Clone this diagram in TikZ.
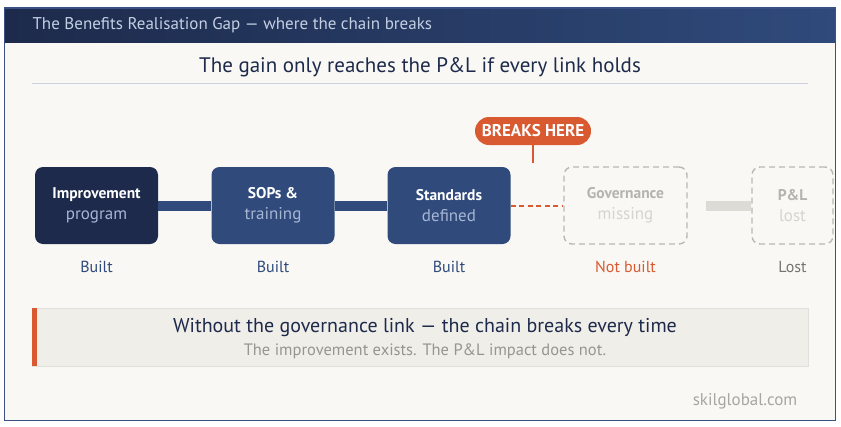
\documentclass[tikz,border=0pt]{standalone}
\usepackage{fontspec}
\setmainfont{PT Sans}
\definecolor{navydark}{HTML}{1D2A4B}
\definecolor{navyblue}{HTML}{2F4A7B}
\definecolor{headtext}{HTML}{C3CFE3}
\definecolor{subtext}{HTML}{A7B6D3}
\definecolor{breakred}{HTML}{D95A31}
\definecolor{ghostline}{HTML}{BAB8B3}
\definecolor{ghosttext}{HTML}{B5B3AE}
\definecolor{ghostsub}{HTML}{D6D4CF}
\definecolor{ghostbar}{HTML}{DDDBD6}
\definecolor{paper}{HTML}{F9F8F4}
\definecolor{bannerfill}{HTML}{F0EEE8}
\definecolor{bannerline}{HTML}{E2E0DA}
\definecolor{lostgrey}{HTML}{76746F}
\definecolor{footgrey}{HTML}{A8A6A1}
\definecolor{rulecol}{HTML}{C9D0DE}
\definecolor{framecol}{HTML}{3A5183}
\tikzset{
  stagebox/.style={rounded corners=8pt, minimum width=123pt, minimum height=77pt,
    inner sep=0pt, align=center, text=white, font=\fontsize{15.5}{21}\selectfont},
  ghostbox/.style={stagebox, fill=none, draw=ghostline, line width=1.4pt,
    dash pattern=on 6pt off 4pt, text=ghosttext},
  linkbar/.style={navyblue, line width=10pt},
  statuslabel/.style={font=\fontsize{16}{19}\selectfont, text=navyblue}
}
\newcommand{\sublabel}[2]{\textcolor{#1}{\fontsize{17}{21}\selectfont #2}}
\begin{document}
\begin{tikzpicture}[x=1pt,y=-1pt]
    \useasboundingbox (0,0) rectangle (841,426);
    % Page and header band
    \fill[paper] (4.5,8) rectangle (835.5,420.5);
    \shade[left color=navydark, right color=navyblue] (4.5,8) rectangle (835.5,42);
    \draw[framecol, line width=1.3pt] (4.5,8) rectangle (835.5,420.5);
    \node[anchor=west, text=headtext, font=\fontsize{17}{19}\selectfont] (head) at (29,25)
      {The Benefits Realisation Gap — where the chain breaks};

    % Title and rule
    \node[text=navydark, font=\fontsize{21}{24}\selectfont] (title) at (420,67)
      {The gain only reaches the P\&L if every link holds};
    \draw[rulecol, line width=0.8pt] (32,83) -- (808,83);

    % Chain stages
    \node[stagebox, fill=navydark] (impr) at (96.5,205.5)
      {\textbf{Improvement}\\\sublabel{subtext}{program}};
    \node[stagebox, fill=navyblue] (sops) at (273,205.5)
      {\textbf{SOPs \&}\\\sublabel{subtext}{training}};
    \node[stagebox, fill=navyblue] (stds) at (449,205.5)
      {\textbf{Standards}\\\sublabel{subtext}{defined}};
    \node[ghostbox] (gov) at (625.5,205.5)
      {\textbf{Governance}\\\sublabel{ghostsub}{missing}};
    \node[ghostbox, minimum width=81pt] (pnl) at (792.5,205.5)
      {\textbf{P\&L}\\\sublabel{ghostsub}{lost}};

    % Links
    \draw[linkbar] (impr) -- (sops);
    \draw[linkbar] (sops) -- (stds);
    \draw[breakred, line width=2pt, dash pattern=on 5pt off 3.5pt] (stds.east) -- (gov.west);
    \draw[ghostbar, line width=10pt, shorten <=18pt] (gov) -- (pnl);

    % Break marker
    \node[fill=breakred, text=white, rounded corners=14pt, minimum width=116pt,
      minimum height=28pt, inner sep=0pt, font=\bfseries\fontsize{17}{19}\selectfont]
      (breaks) at (533,131) {BREAKS HERE};
    \coordinate (breakpt) at (533,163);
    \draw[breakred, line width=1.2pt] (breaks.south) -- (breakpt);

    % Status labels
    \node[statuslabel] (st1) at (96.5,267) {Built};
    \node[statuslabel] (st2) at (273,267) {Built};
    \node[statuslabel] (st3) at (449,267) {Built};
    \node[statuslabel, text=breakred] (st4) at (625.5,267) {Not built};
    \node[statuslabel, text=lostgrey] (st5) at (792.5,267) {Lost};

    % Banner
    \draw[fill=bannerfill, draw=bannerline, line width=0.8pt] (32,308) rectangle (808,366);
    \fill[breakred] (32,308) rectangle (37,366);
    \node[text=navydark, font=\fontsize{20}{23}\selectfont] (msg) at (425,328)
      {Without the governance link — the chain breaks every time};
    \node[text=footgrey!90!black, font=\fontsize{16.5}{19}\selectfont] (submsg) at (425,351)
      {The improvement exists. The P\&L impact does not.};

    % Footer
    \node[text=footgrey, font=\fontsize{17}{19}\selectfont] (foot) at (745,401) {skilglobal.com};
\end{tikzpicture}
\end{document}
